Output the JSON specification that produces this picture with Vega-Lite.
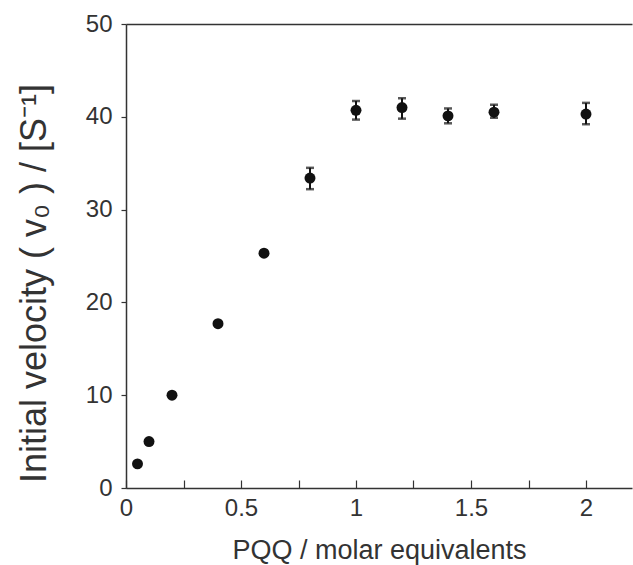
{
  "$schema": "https://vega.github.io/schema/vega-lite/v6.json",
  "width": 506,
  "height": 464,
  "autosize": {"type": "none"},
  "padding": {"left": 126, "top": 24, "right": 1, "bottom": 77},
  "background": "white",
  "config": {
    "view": {"stroke": null},
    "font": "Liberation Sans",
    "axis": {
      "domainColor": "#333333",
      "tickColor": "#333333",
      "labelColor": "#333333",
      "titleColor": "#333333",
      "labelFont": "Liberation Sans",
      "titleFont": "Liberation Sans",
      "labelFontSize": 24,
      "titleFontSize": 27,
      "titleFontWeight": "normal",
      "grid": false,
      "domainWidth": 1.5,
      "tickWidth": 1.2
    }
  },
  "datasets": {
    "pts": [
      {"x": 0.05, "y": 2.6},
      {"x": 0.1, "y": 5.0},
      {"x": 0.2, "y": 10.0},
      {"x": 0.4, "y": 17.7},
      {"x": 0.6, "y": 25.3},
      {"x": 0.8, "y": 33.4},
      {"x": 1.0, "y": 40.7},
      {"x": 1.2, "y": 41.0},
      {"x": 1.4, "y": 40.1},
      {"x": 1.6, "y": 40.5},
      {"x": 2.0, "y": 40.3}
    ],
    "err": [
      {"x": 0.8, "lo": 32.2, "hi": 34.5},
      {"x": 1.0, "lo": 39.7, "hi": 41.7},
      {"x": 1.2, "lo": 39.8, "hi": 42.0},
      {"x": 1.4, "lo": 39.3, "hi": 40.9},
      {"x": 1.6, "lo": 39.9, "hi": 41.3},
      {"x": 2.0, "lo": 39.2, "hi": 41.5}
    ]
  },
  "layer": [
    {
      "data": {"name": "err"},
      "mark": {"type": "errorbar", "ticks": {"size": 8, "thickness": 2.5, "color": "#111111"}, "rule": {"strokeWidth": 2, "color": "#111111"}},
      "encoding": {
        "x": {
          "field": "x", "type": "quantitative",
          "scale": {"domain": [0, 2.2], "nice": false, "zero": false},
          "axis": {"orient": "top", "title": null, "labels": false, "ticks": false, "domain": true}
        },
        "y": {
          "field": "lo", "type": "quantitative",
          "scale": {"domain": [0, 50], "nice": false},
          "title": "Initial velocity ( v₀ ) / [S⁻¹]",
          "axis": {
            "title": "Initial velocity ( v₀ ) / [S⁻¹]",
            "values": [0, 10, 20, 30, 40, 50],
            "tickSize": 5,
            "labelPadding": 9,
            "titlePadding": 32,
            "titleFontSize": 36,
            "titleY": 259,
            "labelFlush": false
          }
        },
        "y2": {"field": "hi"}
      }
    },
    {
      "data": {"name": "pts"},
      "mark": {"type": "point", "filled": true, "opacity": 1, "size": 120, "color": "#111111"},
      "encoding": {
        "x": {
          "field": "x", "type": "quantitative",
          "scale": {"domain": [0, 2.2], "nice": false, "zero": false},
          "axis": {
            "orient": "bottom",
            "title": "PQQ / molar equivalents",
            "values": [0, 0.25, 0.5, 0.75, 1, 1.25, 1.5, 1.75, 2],
            "format": "~g",
            "labelExpr": "datum.value % 0.5 == 0 ? datum.label : ''",
            "tickSize": -8,
            "labelPadding": 16,
            "titlePadding": 17,
            "labelFlush": false
          }
        },
        "y": {
          "field": "y", "type": "quantitative",
          "scale": {"domain": [0, 50], "nice": false},
          "title": "Initial velocity ( v₀ ) / [S⁻¹]",
          "axis": {
            "title": "Initial velocity ( v₀ ) / [S⁻¹]",
            "values": [0, 10, 20, 30, 40, 50],
            "tickSize": 5,
            "labelPadding": 9,
            "titlePadding": 32,
            "titleFontSize": 36,
            "titleY": 259,
            "labelFlush": false
          }
        }
      }
    }
  ],
  "resolve": {"axis": {"x": "independent"}}
}
